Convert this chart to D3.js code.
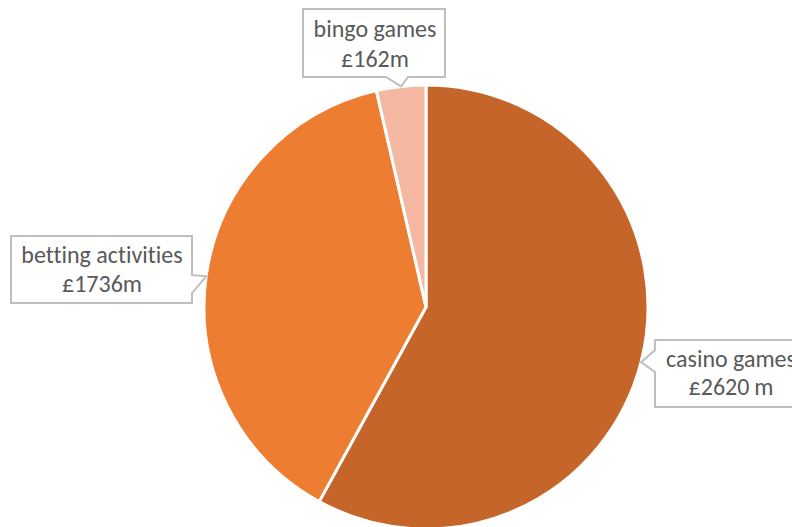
<!DOCTYPE html>
<html>
<head>
<meta charset="utf-8">
<script src="https://cdn.jsdelivr.net/npm/d3@7"></script>
<style>
  body { margin: 0; background: #fff; }
  svg { display: block; }
</style>
</head>
<body>
<div id="chart"></div>
<script>
// data
var categories = ["casino games", "betting activities", "bingo games"]
var values = [2620, 1736, 162]
var valueLabels = ["£2620\u2009m", "£1736m", "£162m"]
var colors = ["#C5652A", "#ED7D31", "#F4B8A2"]

var width = 792, height = 527
var cx = 426, cy = 307, radius = 222

var svg = d3.select("#chart").append("svg")
  .attr("width", width)
  .attr("height", height)

var pie = d3.pie().sort(null).value(function(d) { return d.value })
var arc = d3.arc().innerRadius(0).outerRadius(radius)

var data = categories.map(function(c, i) {
  return { name: c, value: values[i], label: valueLabels[i], color: colors[i] }
})
var arcs = pie(data)

var g = svg.append("g").attr("transform", "translate(" + cx + "," + cy + ")")

g.selectAll("path")
  .data(arcs)
  .enter().append("path")
    .attr("d", arc)
    .attr("fill", function(d) { return d.data.color })
    .attr("stroke", "#fff")
    .attr("stroke-width", 3)
    .attr("stroke-linejoin", "round")

// callout boxes: box rect, which side the pointer is on, pointer base (along that side)
var callouts = [
  { box: [655, 340, 160, 67], side: "left", base: [350, 372], text: [731, 367, 395] },
  { box: [11, 236, 181, 67], side: "right", base: [275, 293], text: [102, 263, 292] },
  { box: [303, 9, 142, 68], side: "bottom", base: [386, 408], text: [375, 37, 67] }
]

function tipPoint(d) {
  var a = (d.startAngle + d.endAngle) / 2
  return [cx + Math.sin(a) * radius, cy - Math.cos(a) * radius]
}

function calloutPath(c, tip) {
  var x = c.box[0], y = c.box[1], w = c.box[2], h = c.box[3]
  var p = d3.path()
  p.moveTo(x, y)
  p.lineTo(x + w, y)
  if (c.side == "right") {
    p.lineTo(x + w, c.base[0])
    p.lineTo(tip[0], tip[1])
    p.lineTo(x + w, c.base[1])
  }
  p.lineTo(x + w, y + h)
  if (c.side == "bottom") {
    p.lineTo(c.base[1], y + h)
    p.lineTo(tip[0], tip[1])
    p.lineTo(c.base[0], y + h)
  }
  p.lineTo(x, y + h)
  if (c.side == "left") {
    p.lineTo(x, c.base[1])
    p.lineTo(tip[0], tip[1])
    p.lineTo(x, c.base[0])
  }
  p.closePath()
  return p.toString()
}

var labels = svg.append("g").attr("class", "labels")

arcs.forEach(function(d, i) {
  var c = callouts[i]
  var tip = tipPoint(d)
  labels.append("path")
    .attr("d", calloutPath(c, tip))
    .attr("fill", "#fff")
    .attr("stroke", "#BFBFBF")
    .attr("stroke-width", 2)
    .attr("stroke-linejoin", "miter")

  var t = labels.append("text")
    .attr("text-anchor", "middle")
    .style("font-family", "Carlito, Calibri, Lato, 'Open Sans', sans-serif")
    .style("font-size", "24px")
    .style("font-variant-ligatures", "none")
    .style("fill", "#595959")
  t.append("tspan").attr("x", c.text[0]).attr("y", c.text[1]).text(d.data.name)
  t.append("tspan").attr("x", c.text[0]).attr("y", c.text[2]).text(d.data.label)
})
</script>
</body>
</html>
